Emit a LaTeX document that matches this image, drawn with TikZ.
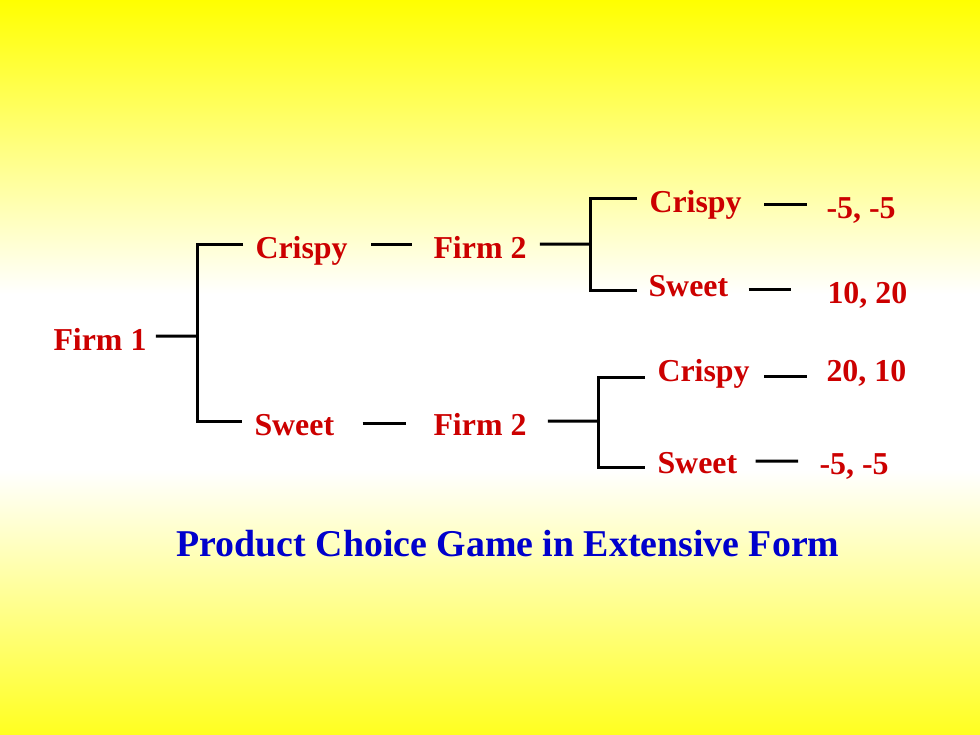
\documentclass[tikz,border=0pt]{standalone}
\usepackage{fontspec}
\setmainfont{Liberation Serif}
\usepackage{xcolor}
\definecolor{firmred}{RGB}{204,0,0}
\definecolor{titleblue}{RGB}{0,0,204}
\definecolor{bgyellow}{RGB}{255,255,0}
\definecolor{bgyellowlow}{RGB}{255,255,32}
\pgfdeclareverticalshading{slidebg}{100bp}{color(0bp)=(bgyellowlow); color(25bp)=(bgyellowlow); color(43bp)=(white); color(55bp)=(white); color(75bp)=(bgyellow); color(100bp)=(bgyellow)}

\begin{document}
\begin{tikzpicture}[
    x=1bp, y=-1bp,
    line width=3bp,
    choice/.style={text=firmred, font=\fontsize{32}{36}\selectfont\bfseries,
        inner sep=0pt, text height=28bp, text depth=0pt, anchor=base west},
    caption/.style={text=titleblue, font=\fontsize{38}{44}\selectfont\bfseries,
        inner sep=0pt, anchor=base}
]

% Background
\useasboundingbox (0,0) rectangle (980,735);
\shade[shading=slidebg] (0,0) rectangle (980,735);

% Nodes
\node[choice] (f1) at (52,350) {Firm 1};
\node[choice] (c1) at (254,258) {Crispy};
\node[choice] (s1) at (253,435) {Sweet};
\node[choice] (f2a) at (432,258) {Firm 2};
\node[choice] (f2b) at (432,435) {Firm 2};
\node[choice] (c2a) at (648,212) {Crispy};
\node[choice] (s2a) at (647,296) {Sweet};
\node[choice] (c2b) at (656,381) {Crispy};
\node[choice] (s2b) at (656,473) {Sweet};
\node[choice] (p1) at (825,218) {-5, -5};
\node[choice] (p2) at (826,303) {10, 20};
\node[choice] (p3) at (825,381) {20, 10};
\node[choice] (p4) at (818,474) {-5, -5};
\node[caption] (title) at (508,556) {Product Choice Game in Extensive Form};

% Junctions
\coordinate (j1) at (197,336);
\coordinate (j2) at (590,244);
\coordinate (j3) at (598,421);

% Firm 1 moves
\draw ([xshift=8bp]f1.east) -- (j1);
\draw ([xshift=-11bp]c1.west) -| (j1) |- ([xshift=-11bp]s1.west);
\draw ([xshift=22bp]c1.east) -- ([xshift=-20bp]f2a.west);
\draw ([xshift=27bp,yshift=-2bp]s1.east) -- ([xshift=-26bp,yshift=-2bp]f2b.west);

% Firm 2 after Crispy
\draw ([xshift=12bp]f2a.east) -- (j2);
\draw ([xshift=-11bp]c2a.west) -| (j2) |- ([xshift=-10bp,yshift=-8bp]s2a.west);
\draw ([xshift=21bp]p1.west -| c2a.east) -- ([xshift=-18bp]p1.west);
\draw ([xshift=19bp]p2.west -| s2a.east) -- ([xshift=-35bp]p2.west);

% Firm 2 after Sweet
\draw ([xshift=20bp]f2b.east) -- (j3);
\draw ([xshift=-11bp,yshift=-10bp]c2b.west) -| (j3) |- ([xshift=-11bp,yshift=-8bp]s2b.west);
\draw ([xshift=13bp,yshift=-9bp]c2b.east) -- ([xshift=-18bp,yshift=-9bp]p3.west);
\draw ([xshift=17bp,yshift=-2bp]s2b.east) -- ([xshift=-20bp,yshift=-1bp]p4.west);

\end{tikzpicture}
\end{document}
